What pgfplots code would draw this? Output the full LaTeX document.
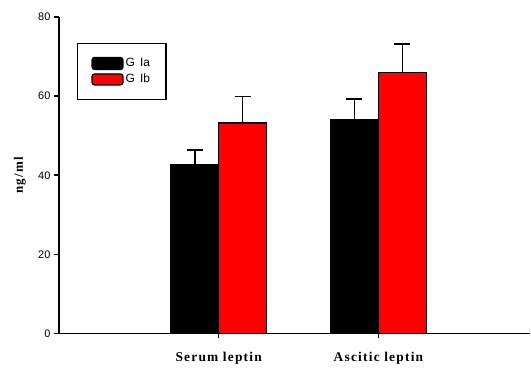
\documentclass[border=0pt]{standalone}
\usepackage{pgfplots}
\pgfplotsset{compat=1.18}
\usepackage{fontspec}
\setmainfont{Liberation Sans}
\newfontfamily\serifb[LetterSpace=9]{Liberation Serif}
\begin{document}
\begin{tikzpicture}
\begin{axis}[
 scale only axis, width=472bp, height=317bp,
 xmin=-1, xmax=1.95, ymin=0, ymax=80,
 ybar=0pt, bar width=0.3,
 axis x line=bottom, axis y line=left,
 axis line style={-, line width=1.6bp},
 xtick={0,1}, xticklabels={Serum leptin, Ascitic leptin},
 xticklabel style={font=\fontsize{13.5}{15}\selectfont\serifb\bfseries, yshift=-10bp},
 ytick={0,20,40,60,80},
 yticklabel style={font=\fontsize{11}{13}\selectfont},
 /pgf/number format/assume math mode=true,
 tick style={line width=1.6bp, black},
 major tick length=5bp,
 tick align=outside,
 ylabel={ng/ml},
 ylabel style={font=\fontsize{13}{14}\selectfont\serifb\bfseries, at={(axis description cs:-0.083,0.5)}, anchor=center},
 clip=false,
 legend style={at={(axis description cs:0.038,0.918)}, anchor=north west, draw=black, line width=1.3bp,
   font=\fontsize{12}{14}\selectfont, inner xsep=14bp, inner ysep=13bp, row sep=2bp},
 legend cell align=left,
]
\addplot[fill=black, draw=black, line width=1.2bp,
  legend image code/.code={\draw[fill=black, draw=black, rounded corners=2.5bp, line width=1.2bp] (-4bp,-6bp) rectangle (27bp,6bp);},
  error bars/.cd, y dir=plus, y explicit,
  error bar style={line width=1.6bp, black},
  error mark options={rotate=90, mark size=8bp, line width=1.6bp, black}]
  coordinates {(0,42.6) +- (0,3.8) (1,54.0) +- (0,5.2)};
\addlegendentry{G\, Ia}
\addplot[fill=red, draw=black, line width=1.2bp,
  legend image code/.code={\draw[fill=red, draw=black, rounded corners=2.5bp, line width=1.2bp] (-4bp,-5.5bp) rectangle (27bp,5.5bp);},
  error bars/.cd, y dir=plus, y explicit,
  error bar style={line width=1.6bp, black},
  error mark options={rotate=90, mark size=8bp, line width=1.6bp, black}]
  coordinates {(0,53.2) +- (0,6.7) (1,65.9) +- (0,7.3)};
\addlegendentry{G\, Ib}
\end{axis}
\path ([xshift=-59bp,yshift=-35bp]current axis.south west) rectangle ([yshift=17bp]current axis.north east);
\end{tikzpicture}
\end{document}
